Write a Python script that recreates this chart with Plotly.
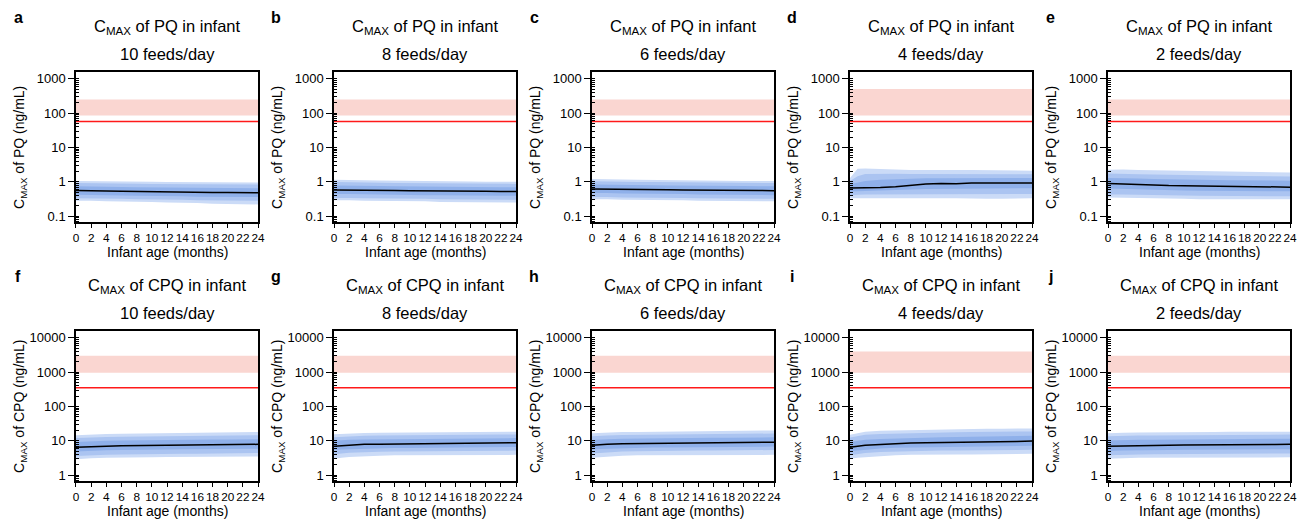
import plotly.graph_objects as go

# page has an 8px body margin: the figure starts at (8, 8) on screen
OFF = 8
W, H = 1311 - OFF, 525 - OFF
FONT = "Arial, Liberation Sans, sans-serif"

ages = [0, 1, 2, 4, 6, 8, 10, 12, 14, 16, 18, 20, 22, 24]
x_ticks = list(range(0, 25, 2))
feeds = ["10", "8", "6", "4", "2"]
letters_pq = ["a", "b", "c", "d", "e"]
letters_cpq = ["f", "g", "h", "i", "j"]

pq_line = 57
pq_band_lo = [85, 85, 85, 85, 85]
pq_band_hi = [250, 250, 250, 500, 250]
cpq_line = 350
cpq_band_lo = [950, 950, 950, 950, 950]
cpq_band_hi = [3000, 3000, 3000, 4000, 3000]

# ---- PQ, 10 feeds/day (a)
a_med = [0.56, 0.56, 0.55, 0.54, 0.53, 0.52, 0.51, 0.51, 0.50, 0.50, 0.49, 0.49, 0.48, 0.48]
a_hi1 = [1.05, 1.05, 1.04, 1.03, 1.02, 1.0, 1.0, 0.99, 0.98, 0.97, 0.97, 0.96, 0.95, 0.95]
a_lo1 = [0.28, 0.28, 0.28, 0.27, 0.27, 0.26, 0.26, 0.25, 0.24, 0.24, 0.23, 0.23, 0.22, 0.22]
a_hi2 = [0.92, 0.92, 0.91, 0.90, 0.89, 0.88, 0.87, 0.86, 0.86, 0.85, 0.84, 0.84, 0.83, 0.83]
a_lo2 = [0.33, 0.33, 0.33, 0.32, 0.32, 0.31, 0.31, 0.30, 0.30, 0.29, 0.29, 0.28, 0.28, 0.28]
a_hi3 = [0.74, 0.74, 0.73, 0.72, 0.71, 0.70, 0.69, 0.68, 0.68, 0.67, 0.66, 0.66, 0.65, 0.65]
a_lo3 = [0.42, 0.42, 0.41, 0.41, 0.40, 0.39, 0.39, 0.38, 0.38, 0.37, 0.37, 0.36, 0.36, 0.36]
# ---- PQ, 8 feeds/day (b)
b_med = [0.58, 0.58, 0.58, 0.57, 0.56, 0.56, 0.55, 0.55, 0.54, 0.54, 0.53, 0.53, 0.52, 0.52]
b_hi1 = [1.15, 1.15, 1.13, 1.11, 1.09, 1.07, 1.06, 1.05, 1.04, 1.03, 1.02, 1.01, 1.0, 1.0]
b_lo1 = [0.29, 0.29, 0.29, 0.28, 0.28, 0.27, 0.27, 0.27, 0.26, 0.26, 0.26, 0.25, 0.25, 0.25]
b_hi2 = [0.98, 0.98, 0.97, 0.95, 0.94, 0.93, 0.92, 0.91, 0.90, 0.89, 0.89, 0.88, 0.87, 0.87]
b_lo2 = [0.34, 0.34, 0.34, 0.33, 0.33, 0.32, 0.32, 0.32, 0.31, 0.31, 0.30, 0.30, 0.30, 0.30]
b_hi3 = [0.78, 0.78, 0.77, 0.76, 0.75, 0.74, 0.73, 0.73, 0.72, 0.72, 0.71, 0.71, 0.70, 0.70]
b_lo3 = [0.44, 0.44, 0.44, 0.43, 0.43, 0.42, 0.42, 0.41, 0.41, 0.40, 0.40, 0.40, 0.39, 0.39]
# ---- PQ, 6 feeds/day (c)
c_med = [0.62, 0.62, 0.61, 0.61, 0.60, 0.59, 0.59, 0.58, 0.58, 0.57, 0.57, 0.56, 0.56, 0.55]
c_hi1 = [1.2, 1.2, 1.18, 1.16, 1.14, 1.12, 1.11, 1.10, 1.09, 1.08, 1.07, 1.06, 1.05, 1.05]
c_lo1 = [0.31, 0.31, 0.31, 0.30, 0.30, 0.30, 0.29, 0.29, 0.28, 0.28, 0.28, 0.27, 0.27, 0.27]
c_hi2 = [1.04, 1.04, 1.02, 1.01, 0.99, 0.98, 0.97, 0.96, 0.95, 0.95, 0.94, 0.93, 0.92, 0.92]
c_lo2 = [0.36, 0.36, 0.36, 0.35, 0.35, 0.34, 0.34, 0.34, 0.33, 0.33, 0.33, 0.32, 0.32, 0.32]
c_hi3 = [0.83, 0.83, 0.82, 0.81, 0.80, 0.79, 0.78, 0.78, 0.77, 0.76, 0.76, 0.75, 0.74, 0.74]
c_lo3 = [0.47, 0.47, 0.47, 0.46, 0.45, 0.45, 0.44, 0.44, 0.43, 0.43, 0.42, 0.42, 0.41, 0.41]
# ---- PQ, 4 feeds/day (d)
d_med = [0.66, 0.66, 0.66, 0.68, 0.72, 0.80, 0.86, 0.89, 0.88, 0.92, 0.91, 0.91, 0.92, 0.93]
d_hi1 = [1.3, 2.4, 2.45, 2.35, 2.25, 2.2, 2.2, 2.15, 2.2, 2.2, 2.15, 2.1, 2.15, 2.1]
d_lo1 = [0.33, 0.33, 0.34, 0.34, 0.34, 0.33, 0.33, 0.33, 0.33, 0.33, 0.32, 0.32, 0.32, 0.33]
d_hi2 = [1.05, 1.45, 1.7, 1.75, 1.72, 1.7, 1.7, 1.68, 1.7, 1.68, 1.66, 1.65, 1.65, 1.65]
d_lo2 = [0.40, 0.42, 0.43, 0.44, 0.45, 0.45, 0.45, 0.45, 0.45, 0.45, 0.45, 0.44, 0.44, 0.44]
d_hi3 = [0.85, 0.95, 1.05, 1.15, 1.2, 1.25, 1.27, 1.28, 1.28, 1.28, 1.28, 1.28, 1.3, 1.3]
d_lo3 = [0.52, 0.53, 0.54, 0.55, 0.57, 0.60, 0.62, 0.63, 0.63, 0.64, 0.64, 0.64, 0.65, 0.65]
# ---- PQ, 2 feeds/day (e)
e_med = [0.90, 0.88, 0.86, 0.83, 0.80, 0.78, 0.77, 0.76, 0.75, 0.74, 0.73, 0.72, 0.71, 0.70]
e_hi1 = [2.25, 2.3, 2.3, 2.2, 2.15, 2.1, 2.1, 2.05, 2.0, 1.98, 1.95, 1.93, 1.88, 1.87]
e_lo1 = [0.35, 0.35, 0.35, 0.34, 0.33, 0.32, 0.32, 0.31, 0.31, 0.31, 0.31, 0.30, 0.31, 0.31]
e_hi2 = [1.75, 1.75, 1.72, 1.67, 1.62, 1.58, 1.56, 1.54, 1.52, 1.50, 1.48, 1.46, 1.44, 1.42]
e_lo2 = [0.43, 0.43, 0.43, 0.42, 0.41, 0.40, 0.40, 0.39, 0.39, 0.39, 0.38, 0.38, 0.38, 0.38]
e_hi3 = [1.3, 1.3, 1.28, 1.24, 1.2, 1.17, 1.15, 1.14, 1.13, 1.12, 1.11, 1.10, 1.09, 1.08]
e_lo3 = [0.64, 0.63, 0.62, 0.60, 0.58, 0.57, 0.56, 0.55, 0.55, 0.54, 0.54, 0.53, 0.53, 0.53]
# ---- CPQ, 10 feeds/day (f)
f_med = [6.5, 6.7, 6.8, 7.0, 7.2, 7.3, 7.4, 7.5, 7.5, 7.6, 7.6, 7.7, 7.8, 7.9]
f_hi1 = [14.5, 15, 15.5, 15.8, 16, 16.2, 16.5, 16.8, 17, 17.2, 17.3, 17.5, 17.8, 18]
f_lo1 = [2.9, 3.0, 3.1, 3.2, 3.3, 3.3, 3.3, 3.4, 3.4, 3.4, 3.5, 3.5, 3.5, 3.5]
f_hi2 = [12, 12.3, 12.6, 13, 13.2, 13.4, 13.6, 13.8, 14, 14.1, 14.2, 14.3, 14.5, 14.6]
f_lo2 = [3.6, 3.7, 3.8, 3.9, 4.0, 4.1, 4.1, 4.2, 4.2, 4.2, 4.3, 4.3, 4.3, 4.4]
f_hi3 = [9.2, 9.5, 9.7, 10, 10.2, 10.4, 10.5, 10.6, 10.7, 10.8, 10.9, 11, 11.1, 11.2]
f_lo3 = [4.9, 5.0, 5.1, 5.3, 5.4, 5.5, 5.6, 5.6, 5.7, 5.7, 5.8, 5.8, 5.9, 5.9]
# ---- CPQ, 8 feeds/day (g)
g_med = [7.0, 7.3, 7.6, 7.9, 8.0, 8.1, 8.2, 8.3, 8.4, 8.4, 8.5, 8.6, 8.7, 8.8]
g_hi1 = [15.5, 16, 16.5, 17, 17.2, 17.4, 17.6, 17.8, 18, 18.1, 18.2, 18.3, 18.4, 18.5]
g_lo1 = [3.0, 3.2, 3.4, 3.6, 3.7, 3.8, 3.8, 3.9, 3.9, 3.9, 3.9, 3.9, 3.9, 3.9]
g_hi2 = [12.8, 13.2, 13.6, 14, 14.2, 14.4, 14.5, 14.6, 14.8, 14.9, 15, 15.1, 15.2, 15.3]
g_lo2 = [4.1, 4.3, 4.5, 4.7, 4.8, 4.9, 4.9, 5.0, 5.0, 5.0, 5.1, 5.1, 5.1, 5.2]
g_hi3 = [10, 10.4, 10.7, 11, 11.1, 11.2, 11.3, 11.4, 11.5, 11.6, 11.7, 11.8, 11.9, 12]
g_lo3 = [5.4, 5.6, 5.8, 6.0, 6.1, 6.2, 6.2, 6.3, 6.3, 6.4, 6.4, 6.5, 6.5, 6.6]
# ---- CPQ, 6 feeds/day (h)
h_med = [7.4, 7.7, 7.9, 8.2, 8.3, 8.4, 8.5, 8.6, 8.7, 8.8, 8.9, 9.0, 9.0, 9.1]
h_hi1 = [16.5, 17, 17.5, 18, 18.2, 18.4, 18.6, 18.8, 19, 19.2, 19.4, 19.6, 19.8, 20]
h_lo1 = [3.2, 3.4, 3.5, 3.7, 3.8, 3.8, 3.8, 3.9, 3.9, 3.9, 3.9, 3.9, 3.9, 3.9]
h_hi2 = [13.5, 14, 14.4, 14.8, 15, 15.2, 15.3, 15.4, 15.6, 15.8, 16, 16.1, 16.2, 16.3]
h_lo2 = [4.3, 4.5, 4.7, 4.9, 5.0, 5.1, 5.1, 5.2, 5.2, 5.2, 5.3, 5.3, 5.3, 5.4]
h_hi3 = [10.5, 10.9, 11.2, 11.5, 11.7, 11.8, 11.9, 12, 12.1, 12.2, 12.3, 12.4, 12.5, 12.6]
h_lo3 = [5.6, 5.8, 6.0, 6.2, 6.3, 6.4, 6.4, 6.5, 6.5, 6.6, 6.6, 6.7, 6.7, 6.8]
# ---- CPQ, 4 feeds/day (i)
i_med = [6.5, 6.9, 7.4, 7.8, 8.3, 8.6, 8.8, 9.0, 9.1, 9.2, 9.3, 9.4, 9.6, 9.8]
i_hi1 = [15, 17, 18.5, 19.5, 20, 20.5, 21, 21.5, 22, 22, 22.5, 22.5, 23, 23]
i_lo1 = [3.0, 3.2, 3.4, 3.6, 3.8, 3.9, 4.0, 4.0, 4.0, 4.0, 4.1, 4.1, 4.1, 4.2]
i_hi2 = [12.5, 14, 15, 15.8, 16.3, 16.8, 17.2, 17.5, 17.8, 18, 18.2, 18.4, 18.6, 18.8]
i_lo2 = [3.8, 4.1, 4.4, 4.7, 4.9, 5.0, 5.1, 5.2, 5.2, 5.3, 5.3, 5.4, 5.4, 5.5]
i_hi3 = [9.2, 10, 10.7, 11.3, 11.8, 12.2, 12.5, 12.8, 13, 13.2, 13.4, 13.6, 13.8, 14]
i_lo3 = [5.0, 5.3, 5.6, 6.0, 6.3, 6.5, 6.6, 6.7, 6.8, 6.9, 7.0, 7.0, 7.1, 7.2]
# ---- CPQ, 2 feeds/day (j)
j_med = [6.9, 7.0, 7.1, 7.2, 7.3, 7.4, 7.5, 7.5, 7.6, 7.6, 7.7, 7.7, 7.8, 7.9]
j_hi1 = [16.5, 17, 17.2, 17.5, 17.8, 18, 18, 18.2, 18.2, 18.4, 18.4, 18.5, 18.5, 18.5]
j_lo1 = [3.0, 3.1, 3.1, 3.2, 3.2, 3.3, 3.3, 3.3, 3.3, 3.3, 3.3, 3.3, 3.3, 3.3]
j_hi2 = [13.5, 13.8, 14, 14.2, 14.4, 14.5, 14.6, 14.7, 14.8, 14.9, 15, 15, 15.1, 15.2]
j_lo2 = [3.8, 3.9, 3.9, 4.0, 4.1, 4.1, 4.2, 4.2, 4.2, 4.2, 4.3, 4.3, 4.3, 4.3]
j_hi3 = [10.2, 10.4, 10.5, 10.7, 10.8, 10.9, 11, 11.1, 11.2, 11.2, 11.3, 11.4, 11.4, 11.5]
j_lo3 = [5.0, 5.1, 5.2, 5.3, 5.4, 5.4, 5.5, 5.5, 5.6, 5.6, 5.6, 5.7, 5.7, 5.7]

panels_pq = [
    (a_med, a_lo1, a_hi1, a_lo2, a_hi2, a_lo3, a_hi3),
    (b_med, b_lo1, b_hi1, b_lo2, b_hi2, b_lo3, b_hi3),
    (c_med, c_lo1, c_hi1, c_lo2, c_hi2, c_lo3, c_hi3),
    (d_med, d_lo1, d_hi1, d_lo2, d_hi2, d_lo3, d_hi3),
    (e_med, e_lo1, e_hi1, e_lo2, e_hi2, e_lo3, e_hi3),
]
panels_cpq = [
    (f_med, f_lo1, f_hi1, f_lo2, f_hi2, f_lo3, f_hi3),
    (g_med, g_lo1, g_hi1, g_lo2, g_hi2, g_lo3, g_hi3),
    (h_med, h_lo1, h_hi1, h_lo2, h_hi2, h_lo3, h_hi3),
    (i_med, i_lo1, i_hi1, i_lo2, i_hi2, i_lo3, i_hi3),
    (j_med, j_lo1, j_hi1, j_lo2, j_hi2, j_lo3, j_hi3),
]

BAND_COLORS = ["#cbdbf7", "#abc4f1", "#8fb0ea"]
RED_BAND = "#fad6d1"
RED = "#ff1a1a"


def px(sx):
    return (sx - OFF) / W


def py(sy):
    return 1 - (sy - OFF) / H


fig = go.Figure()
layout = dict(
    width=W, height=H, margin=dict(l=0, r=0, t=0, b=0),
    paper_bgcolor="white", plot_bgcolor="white", showlegend=False,
    font=dict(family=FONT, color="black"),
)
annotations = []

PX_LEFT0, PX_W, PX_STEP = 73.5, 183.5, 260
ROWS = [
    dict(top=72, bottom=223, yrange=[-1.174, 3.203],
         drug="PQ", panels=panels_pq, letters=letters_pq, line=pq_line,
         blo=pq_band_lo, bhi=pq_band_hi),
    dict(top=332, bottom=483, yrange=[-0.174, 4.203],
         drug="CPQ", panels=panels_cpq, letters=letters_cpq, line=cpq_line,
         blo=cpq_band_lo, bhi=cpq_band_hi),
]

for r, row in enumerate(ROWS):
    for c in range(5):
        idx = r * 5 + c + 1
        xa = "x" if idx == 1 else f"x{idx}"
        ya = "y" if idx == 1 else f"y{idx}"
        xkey = "xaxis" if idx == 1 else f"xaxis{idx}"
        ykey = "yaxis" if idx == 1 else f"yaxis{idx}"
        left = PX_LEFT0 + c * PX_STEP
        right = left + PX_W
        xd = [px(left), px(right)]
        yd = [py(row["bottom"]), py(row["top"])]

        layout[xkey] = dict(
            domain=xd, anchor=ya, range=[0, 24], tickmode="array", tickvals=x_ticks,
            ticktext=[str(t) for t in x_ticks], ticks="outside", ticklen=4, tickwidth=1,
            tickcolor="black", showline=True, linecolor="black", linewidth=1.5,
            mirror=True, showgrid=False, zeroline=False, tickangle=0,
            tickfont=dict(size=11.8, family=FONT, color="black"),
        )
        layout[ykey] = dict(
            domain=yd, anchor=xa, type="log", range=row["yrange"],
            dtick=1, tick0=0, tickformat="~g",
            ticks="outside", ticklen=6, tickwidth=1, tickcolor="black",
            minor=dict(dtick="D1", ticks="inside", ticklen=3, tickwidth=1,
                       tickcolor="black", showgrid=False),
            showline=True, linecolor="black", linewidth=1.5, mirror=True,
            showgrid=False, zeroline=False,
            tickfont=dict(size=13, family=FONT, color="black"),
        )

        # red reference band and line
        fig.add_trace(go.Scatter(
            x=[0, 24, 24, 0], y=[row["blo"][c], row["blo"][c], row["bhi"][c], row["bhi"][c]],
            fill="toself", fillcolor=RED_BAND, line=dict(width=0), mode="lines",
            xaxis=xa, yaxis=ya, hoverinfo="skip"))
        fig.add_trace(go.Scatter(
            x=[0, 24], y=[row["line"], row["line"]], mode="lines",
            line=dict(color=RED, width=1.5), xaxis=xa, yaxis=ya, hoverinfo="skip"))

        med, lo1, hi1, lo2, hi2, lo3, hi3 = row["panels"][c]
        for (lo, hi), col in zip([(lo1, hi1), (lo2, hi2), (lo3, hi3)], BAND_COLORS):
            fig.add_trace(go.Scatter(
                x=ages + ages[::-1], y=hi + lo[::-1], fill="toself", fillcolor=col,
                line=dict(width=0), mode="lines", xaxis=xa, yaxis=ya, hoverinfo="skip"))
        fig.add_trace(go.Scatter(
            x=ages, y=med, mode="lines", line=dict(color="black", width=1.5),
            xaxis=xa, yaxis=ya, hoverinfo="skip"))

        cxs = (left + right) / 2
        annotations.append(dict(
            x=px(cxs), y=py(row["top"] - 45), xref="paper", yref="paper",
            text=f"C<sub>MAX</sub> of {row['drug']} in infant", showarrow=False,
            font=dict(size=16.5, family=FONT), xanchor="center", yanchor="middle"))
        annotations.append(dict(
            x=px(cxs), y=py(row["top"] - 18), xref="paper", yref="paper",
            text=f"{feeds[c]} feeds/day", showarrow=False,
            font=dict(size=16.5, family=FONT), xanchor="center", yanchor="middle"))
        annotations.append(dict(
            x=px(left - 58), y=py(row["top"] - 54), xref="paper", yref="paper",
            text=f"<b>{row['letters'][c]}</b>", showarrow=False,
            font=dict(size=16, family=FONT), xanchor="center", yanchor="middle"))
        annotations.append(dict(
            x=px(cxs), y=py(row["bottom"] + 30), xref="paper", yref="paper",
            text="Infant age (months)", showarrow=False,
            font=dict(size=14, family=FONT), xanchor="center", yanchor="middle"))
        annotations.append(dict(
            x=px(left - 56.5), y=py((row["top"] + row["bottom"]) / 2),
            xref="paper", yref="paper", textangle=-90,
            text=f"C<sub>MAX</sub> of {row['drug']} (ng/mL)", showarrow=False,
            font=dict(size=14, family=FONT), xanchor="center", yanchor="middle"))

layout["annotations"] = annotations
fig.update_layout(**layout)
fig.write_html("out.html")
